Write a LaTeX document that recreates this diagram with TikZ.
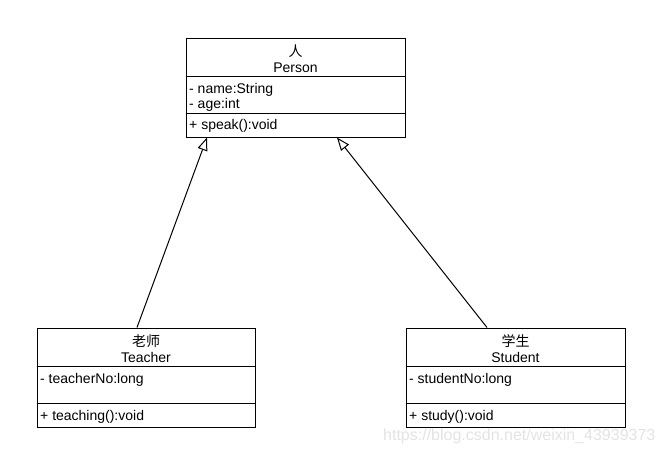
\documentclass[tikz,border=0pt]{standalone}
\usepackage{fontspec}
\setmainfont{Liberation Sans}
\newfontfamily\cjk{Noto Sans CJK SC}
\usepackage{tikz}
\usetikzlibrary{arrows.meta}
\tikzstyle{classbox}=[
        draw,
        line width=1pt,
        minimum width=219pt,
        minimum height=99pt,
        inner sep=0pt
]
\tikzstyle{classtitle}=[
        anchor=base,
        inner sep=0pt
]
\tikzstyle{field}=[
        anchor=base west,
        inner sep=0pt
]
\tikzstyle{inherits}=[
        line width=1pt,
        -{Triangle[open,length=13pt,width=10pt]}
]

\begin{document}
\begin{tikzpicture}[x=1pt,y=-1pt,font=\fontsize{14pt}{16pt}\selectfont]
                        \useasboundingbox (0,0) rectangle (662,453);

                        \node[classbox] (person) at (295.5,87.5) {};
                        \draw[line width=1pt] ([yshift=-39pt]person.north west) -- ([yshift=-39pt]person.north east);
                        \draw[line width=1pt] ([yshift=-76pt]person.north west) -- ([yshift=-76pt]person.north east);
                        \node[classtitle] (personcn) at (295.5,56) {\cjk 人};
                        \node[classtitle] (personname) at (295.5,72) {Person};
                        \node[field] (personfield) at (189,93) {- name:String};
                        \node[field] (personage) at (189,108) {- age:int};
                        \node[field] (personspeak) at (189,129) {+ speak():void};

                        \node[classbox, minimum width=218pt] (teacher) at (146,377.5) {};
                        \draw[line width=1pt] ([yshift=-39pt]teacher.north west) -- ([yshift=-39pt]teacher.north east);
                        \draw[line width=1pt] ([yshift=-76pt]teacher.north west) -- ([yshift=-76pt]teacher.north east);
                        \node[classtitle] (teachercn) at (146,346) {\cjk 老师};
                        \node[classtitle] (teachername) at (146,362) {Teacher};
                        \node[field] (teacherno) at (40,383) {- teacherNo:long};
                        \node[field] (teacherteach) at (40,420) {+ teaching():void};

                        \node[classbox] (student) at (515.5,377.5) {};
                        \draw[line width=1pt] ([yshift=-39pt]student.north west) -- ([yshift=-39pt]student.north east);
                        \draw[line width=1pt] ([yshift=-76pt]student.north west) -- ([yshift=-76pt]student.north east);
                        \node[classtitle] (studentcn) at (515.5,346) {\cjk 学生};
                        \node[classtitle] (studentname) at (515.5,362) {Student};
                        \node[field] (studentno) at (409,383) {- studentNo:long};
                        \node[field] (studentstudy) at (409,420) {+ study():void};

                        \draw[inherits] ([xshift=-9pt]teacher.north) -- ([xshift=-88.5pt]person.south);
                        \draw[inherits] ([xshift=-28.5pt]student.north) -- ([xshift=41.5pt]person.south);

                        \node[field, text=gray!22, font=\fontsize{16pt}{19pt}\selectfont] (watermark) at (383,440) {https://blog.csdn.net/weixin\_43939373};
                    \end{tikzpicture}
\end{document}
